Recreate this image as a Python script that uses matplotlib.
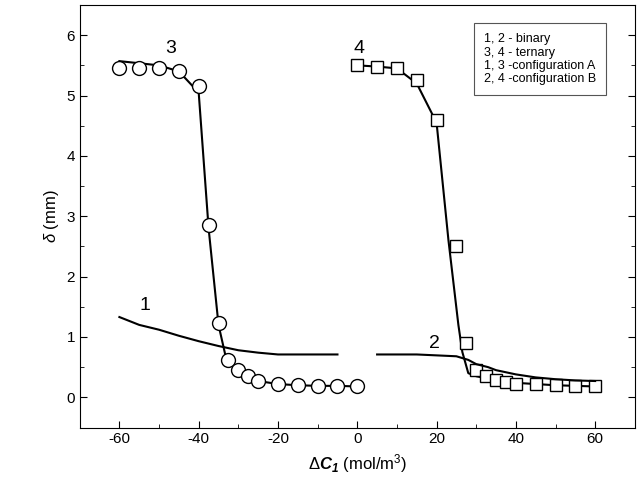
import matplotlib
matplotlib.use("Agg")
import matplotlib.pyplot as plt
plt.rcParams['font.family'] = ['Liberation Sans', 'DejaVu Sans']
plt.rcParams['axes.unicode_minus'] = False
plt.rcParams['mathtext.fontset'] = 'custom'
plt.rcParams['mathtext.rm'] = 'Liberation Sans'
plt.rcParams['mathtext.it'] = 'Liberation Sans:italic'
plt.rcParams['mathtext.bf'] = 'Liberation Sans:bold:italic'

x3 = [-60,-55,-50,-45,-40,-37.5,-35,-32.5,-30,-27.5,-25,-20,-15,-10,-5,0]
y3 = [5.45,5.45,5.45,5.4,5.15,2.85,1.23,0.62,0.45,0.35,0.27,0.22,0.2,0.19,0.19,0.18]
lx3 = [-60,-50,-45,-40,-37.5,-35,-33,-30,-27.5,-25,-20,-15,-10,-5,0]
ly3 = [5.57,5.5,5.4,5.05,2.8,1.2,0.62,0.45,0.35,0.27,0.22,0.2,0.19,0.19,0.18]
x4 = [0,5,10,15,20,25,27.5,30,32.5,35,37.5,40,45,50,55,60]
y4 = [5.5,5.48,5.45,5.25,4.6,2.5,0.9,0.45,0.35,0.28,0.25,0.22,0.22,0.2,0.18,0.18]
lx4 = [0,5,10,15,20,23,25.5,26.5,28,30,35,40,45,50,55,60]
ly4 = [5.5,5.48,5.45,5.2,4.55,2.6,1.2,0.75,0.4,0.35,0.28,0.24,0.22,0.2,0.19,0.18]
x1 = [-60,-55,-50,-45,-40,-35,-30,-25,-20,-10,-5]
y1 = [1.33,1.2,1.12,1.02,0.93,0.85,0.78,0.74,0.71,0.71,0.71]
x2 = [5,15,25,28,30,33,35,40,45,50,55,60]
y2 = [0.71,0.71,0.68,0.62,0.55,0.5,0.45,0.38,0.33,0.3,0.28,0.27]

fig, ax = plt.subplots(figsize=(6.38,5.0), dpi=100)
fig.subplots_adjust(left=0.125, right=0.995, top=0.99, bottom=0.145)
ax.plot(lx3, ly3, 'k-', lw=1.5)
ax.plot(x3, y3, 'o', mfc='white', mec='black', ms=10, mew=1)
ax.plot(lx4, ly4, 'k-', lw=1.5)
ax.plot(x4, y4, 's', mfc='white', mec='black', ms=9, mew=1)
ax.plot(x1, y1, 'k-', lw=1.5)
ax.plot(x2, y2, 'k-', lw=1.5)
ax.text(-55, 1.45, '1', fontsize=14)
ax.text(18, 0.82, '2', fontsize=14)
ax.text(-48.5, 5.7, '3', fontsize=14)
ax.text(-1, 5.7, '4', fontsize=14)
ax.text(32, 5.6, '1, 2 - binary\n3, 4 - ternary\n1, 3 -configuration A\n2, 4 -configuration B',
        fontsize=9, va='center', linespacing=1.15,
        bbox=dict(boxstyle='square,pad=0.8', fc='white', ec='#555555', lw=0.8))
ax.set_xlim(-70, 70)
ax.set_ylim(-0.35, 6.23)
ax.set_xticks([-60,-40,-20,0,20,40,60])
ax.set_xticks(range(-70,71,10), minor=True)
ax.set_yticks(range(0,7))
ax.set_yticks([i+0.5 for i in range(-1,7)], minor=True)
ax.tick_params(which='both', direction='in', top=False, right=True, labelsize=11)
ax.tick_params(which='major', length=5)
ax.tick_params(which='minor', length=3)
ax.set_xlabel(r'$\Delta\mathbf{C}_\mathbf{1}$ (mol/m$^\mathrm{3}$)', fontsize=12)
ax.set_ylabel(r'$\delta$ (mm)', fontsize=12)
fig.savefig('out.png', dpi=100)
